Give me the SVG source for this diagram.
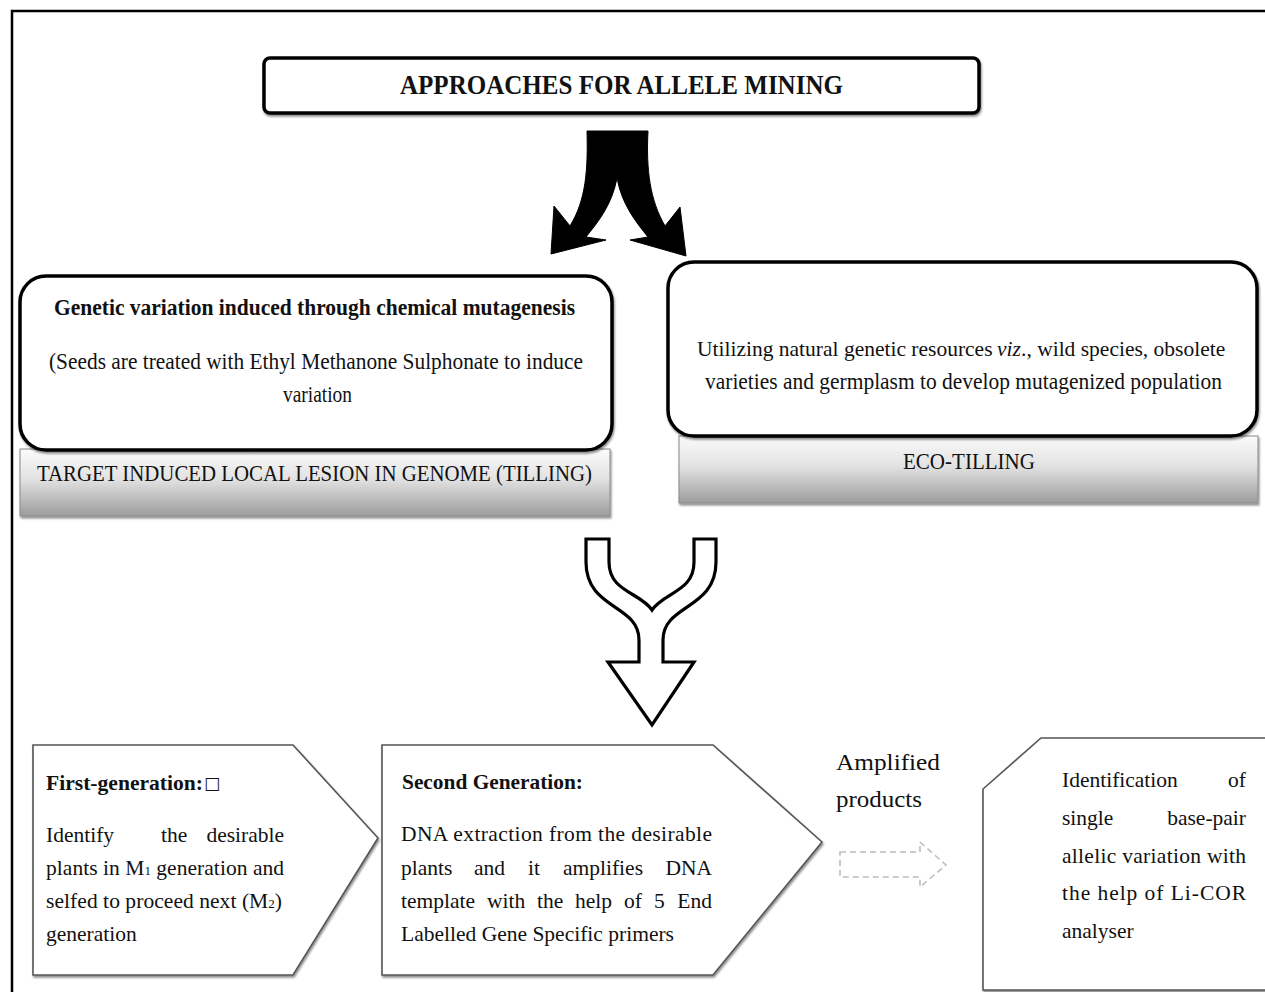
<svg xmlns="http://www.w3.org/2000/svg" width="1265" height="992" viewBox="0 0 1265 992">
<defs>
<linearGradient id="bar" x1="0" y1="0" x2="0" y2="1">
<stop offset="0" stop-color="#fbfbfb"/>
<stop offset="0.45" stop-color="#e2e2e2"/>
<stop offset="1" stop-color="#9c9c9c"/>
</linearGradient>
<filter id="sh" x="-5%" y="-5%" width="110%" height="115%">
<feGaussianBlur in="SourceAlpha" stdDeviation="1.2"/>
<feOffset dx="1" dy="2"/>
<feComponentTransfer><feFuncA type="linear" slope="0.45"/></feComponentTransfer>
<feMerge><feMergeNode/><feMergeNode in="SourceGraphic"/></feMerge>
</filter>
</defs>
<style>
text{font-family:"Liberation Serif","Times New Roman",serif;fill:#111;}
.b{font-weight:bold;}
.rbox{fill:#fff;stroke:#000;stroke-width:3.5;}
.bar{fill:url(#bar);stroke:#8a8a8a;stroke-width:1;}
.pent{fill:#fff;stroke:#555;stroke-width:1.6;}
.t19{font-size:21.5px;}
.t20{font-size:22.5px;}
.e{text-anchor:end;}
</style>
<rect width="1265" height="992" fill="#fff"/>
<path d="M12,992 V11 H1265" fill="none" stroke="#000" stroke-width="2.5"/>

<g id="title">
<rect class="rbox" x="264" y="58" width="715" height="55" rx="6" filter="url(#sh)"/>
<text class="b" x="400" y="94" font-size="27" textLength="443" lengthAdjust="spacingAndGlyphs">APPROACHES FOR ALLELE MINING</text>
</g>

<g id="connectors">
<path id="split-arrow" d="M587,131 L648,131 C646,170 650,200 665,226 L680,207 L686,256 L630,240 L648,237 C636,222 622,205 617,178 C612,205 598,222 586,237 L606,240 L551,254 L554,206 L570,226 C586,200 588,170 587,131 Z" fill="#000" stroke="#000" stroke-width="1"/>
<path id="merge-arrow" d="M586,539 L609,539 L609,562 C609,592 640,592 652,610 C664,592 694,592 694,562 L694,539 L716,539 L716,562 C716,610 663,604 663,640 L663,662 L694,662 L652,725 L608,662 L639,662 L639,640 C639,604 586,610 586,562 Z" fill="#fff" stroke="#000" stroke-width="3.2" stroke-linejoin="miter"/>
<path id="dashed-arrow" d="M840,852 L920,852 L920,842 L946,865 L920,887 L920,877 L840,877 Z" fill="none" stroke="#bdbdbd" stroke-width="1.6" stroke-dasharray="6,4"/>
</g>

<g id="tilling">
<rect class="bar" x="20" y="449" width="590" height="67" filter="url(#sh)"/>
<rect class="rbox" x="20" y="276" width="592" height="174" rx="26" filter="url(#sh)"/>
<text class="b t20" x="54" y="315" textLength="521" lengthAdjust="spacingAndGlyphs">Genetic variation induced through chemical mutagenesis</text>
<text class="t20" x="49" y="369" textLength="534" lengthAdjust="spacingAndGlyphs">(Seeds are treated with Ethyl Methanone Sulphonate to induce</text>
<text class="t20" x="283" y="402" textLength="69" lengthAdjust="spacingAndGlyphs">variation</text>
<text class="t20" x="37" y="481" textLength="555" lengthAdjust="spacingAndGlyphs">TARGET INDUCED LOCAL LESION IN GENOME (TILLING)</text>
</g>

<g id="eco-tilling">
<rect class="bar" x="679" y="436" width="579" height="67" filter="url(#sh)"/>
<rect class="rbox" x="668" y="262" width="589" height="174" rx="26" filter="url(#sh)"/>
<text x="697" y="356" font-size="21.5">Utilizing natural genetic resources</text>
<text x="997" y="356" font-size="21.5" font-style="italic">viz</text>
<text x="1021" y="356" font-size="21.5">., wild species, obsolete</text>
<text class="t20" x="705" y="389" textLength="517" lengthAdjust="spacingAndGlyphs">varieties and germplasm to develop mutagenized population</text>
<text class="t20" x="903" y="469" textLength="132" lengthAdjust="spacingAndGlyphs">ECO-TILLING</text>
</g>

<g id="first-generation">
<path class="pent" d="M33,745 L293,745 L378,838 L293,975 L33,975 Z" filter="url(#sh)"/>
<text class="b t19" x="46" y="790" textLength="157" lengthAdjust="spacingAndGlyphs">First-generation:</text>
<text x="204" y="789" font-size="17" style="font-family:'DejaVu Sans',sans-serif">□</text>
<text class="t19" y="842"><tspan x="46">Identify</tspan><tspan x="161">the</tspan><tspan x="284" class="e">desirable</tspan></text>
<text class="t19" x="46" y="875" textLength="238" lengthAdjust="spacing">plants in M<tspan font-size="13">1</tspan> generation and</text>
<text class="t19" x="46" y="908" textLength="236" lengthAdjust="spacing">selfed to proceed next (M<tspan font-size="13">2</tspan>)</text>
<text class="t19" x="46" y="941">generation</text>
</g>

<g id="second-generation">
<path class="pent" d="M382,745 L713,745 L822,842 L713,975 L382,975 Z" filter="url(#sh)"/>
<text class="b t19" x="402" y="789" textLength="181" lengthAdjust="spacingAndGlyphs">Second Generation:</text>
<text class="t19" x="401" y="841" textLength="311" lengthAdjust="spacing">DNA extraction from the desirable</text>
<text class="t19" y="875"><tspan x="401">plants</tspan><tspan x="474">and</tspan><tspan x="528">it</tspan><tspan x="563">amplifies</tspan><tspan x="712" class="e">DNA</tspan></text>
<text class="t19" y="908"><tspan x="401">template</tspan><tspan x="487">with</tspan><tspan x="537">the</tspan><tspan x="575">help</tspan><tspan x="624">of</tspan><tspan x="654">5</tspan><tspan x="712" class="e">End</tspan></text>
<text class="t19" x="401" y="941" textLength="273" lengthAdjust="spacingAndGlyphs">Labelled Gene Specific primers</text>
</g>

<g id="amplified-label">
<text x="836" y="770" font-size="24" textLength="104" lengthAdjust="spacingAndGlyphs">Amplified</text>
<text x="836" y="807" font-size="24" textLength="86" lengthAdjust="spacingAndGlyphs">products</text>
</g>

<g id="identification">
<path class="pent" d="M983,990 L983,789 L1041,738 L1268,738 L1268,990 Z" filter="url(#sh)"/>
<text class="t19" y="787"><tspan x="1062">Identification</tspan><tspan x="1246" class="e">of</tspan></text>
<text class="t19" y="825"><tspan x="1062">single</tspan><tspan x="1246" class="e">base-pair</tspan></text>
<text class="t19" x="1062" y="863" textLength="184" lengthAdjust="spacing">allelic variation with</text>
<text class="t19" x="1062" y="900" textLength="184" lengthAdjust="spacing">the help of Li-COR</text>
<text class="t19" x="1062" y="938">analyser</text>
</g>
</svg>
